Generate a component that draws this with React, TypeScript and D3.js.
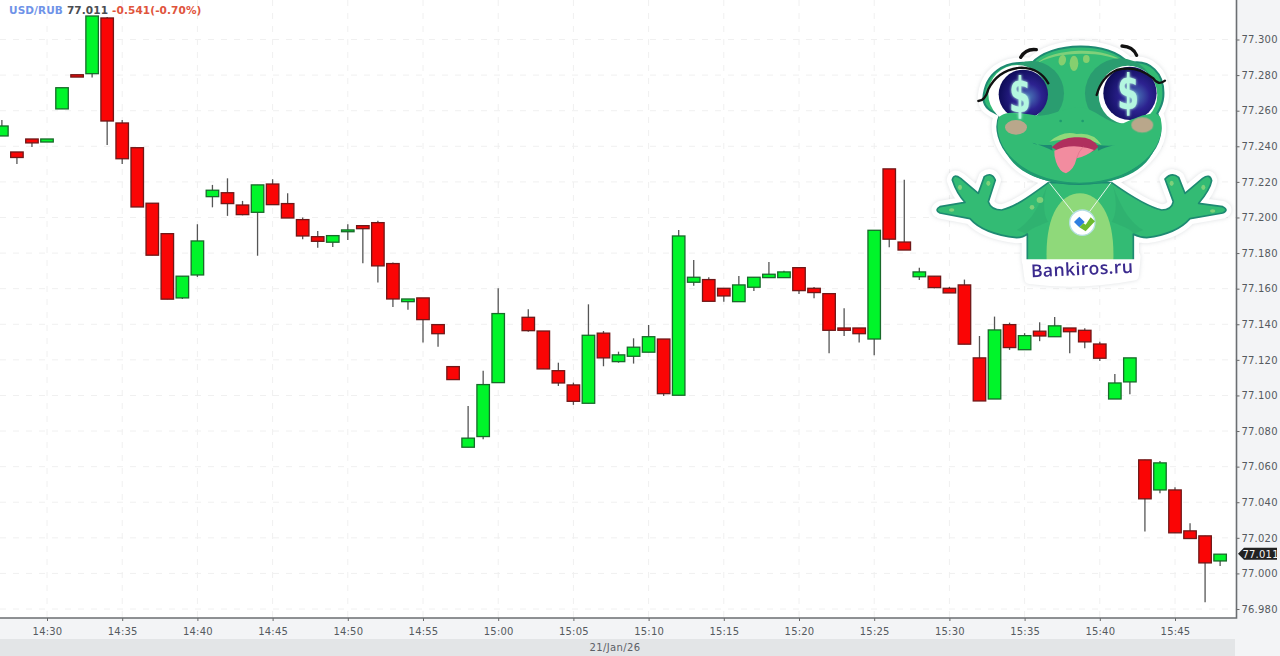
import * as d3 from 'd3';
import React, {useRef, useEffect} from 'react';

const WIDTH = 1280;
const HEIGHT = 656;

// one candle per minute, first one is 14:27
const FIRST_MINUTE = 14 * 60 + 27;

const opens = [
  77.2458, 77.2368, 77.2441, 77.2424, 77.2610, 77.2802, 77.2808, 77.3121, 77.2531, 77.2392,
  77.2080, 77.1909, 77.1548, 77.1677, 77.2117, 77.2139, 77.2070, 77.2029, 77.2188, 77.2078,
  77.1988, 77.1892, 77.1861, 77.1920, 77.1954, 77.1971, 77.1741, 77.1527, 77.1548, 77.1398,
  77.1162, 77.0709, 77.0769, 77.1072, 77.1452, 77.1439, 77.1362, 77.1139, 77.1059, 77.0956,
  77.1350, 77.1190, 77.1220, 77.1243, 77.1317, 77.1001, 77.1636, 77.1651, 77.1602, 77.1527,
  77.1608, 77.1662, 77.1662, 77.1718, 77.1602, 77.1572, 77.1379, 77.1379, 77.1317, 77.2273,
  77.1862, 77.1667, 77.1670, 77.1602, 77.1621, 77.1211, 77.0980, 77.1398, 77.1257, 77.1361,
  77.1330, 77.1379, 77.1366, 77.1289, 77.0980, 77.1076, 77.0638, 77.0469, 77.0469, 77.0239,
  77.0211, 77.0070,
];
const highs = [
  77.2548, 77.2368, 77.2441, 77.2441, 77.2729, 77.2802, 77.3132, 77.3126, 77.2548, 77.2392,
  77.2080, 77.1909, 77.1670, 77.1962, 77.2183, 77.2220, 77.2093, 77.2183, 77.2215, 77.2136,
  77.2000, 77.1924, 77.1898, 77.1962, 77.1958, 77.1982, 77.1747, 77.1542, 77.1548, 77.1398,
  77.1162, 77.0941, 77.1139, 77.1602, 77.1452, 77.1484, 77.1362, 77.1184, 77.1072, 77.1512,
  77.1362, 77.1246, 77.1321, 77.1396, 77.1317, 77.1930, 77.1761, 77.1664, 77.1602, 77.1671,
  77.1664, 77.1750, 77.1700, 77.1718, 77.1610, 77.1572, 77.1490, 77.1379, 77.1928, 77.2273,
  77.2212, 77.1718, 77.1670, 77.1610, 77.1651, 77.1334, 77.1443, 77.1409, 77.1350, 77.1411,
  77.1441, 77.1379, 77.1378, 77.1302, 77.1121, 77.1211, 77.0638, 77.0632, 77.0484, 77.0282,
  77.0211, 77.0108,
];
const lows = [
  77.2458, 77.2301, 77.2396, 77.2424, 77.2610, 77.2789, 77.2787, 77.2407, 77.2301, 77.2059,
  77.1788, 77.1541, 77.1542, 77.1666, 77.2057, 77.2009, 77.2012, 77.1785, 77.2070, 77.1997,
  77.1878, 77.1830, 77.1834, 77.1874, 77.1743, 77.1634, 77.1497, 77.1482, 77.1297, 77.1274,
  77.1089, 77.0709, 77.0754, 77.1072, 77.1452, 77.1358, 77.1149, 77.1053, 77.0947, 77.0956,
  77.1164, 77.1184, 77.1179, 77.1243, 77.0997, 77.1001, 77.1617, 77.1529, 77.1527, 77.1527,
  77.1587, 77.1662, 77.1662, 77.1570, 77.1546, 77.1237, 77.1334, 77.1297, 77.1226, 77.1833,
  77.1817, 77.1649, 77.1602, 77.1576, 77.1288, 77.0969, 77.0980, 77.1256, 77.1257, 77.1305,
  77.1330, 77.1237, 77.1265, 77.1194, 77.0980, 77.1007, 77.0235, 77.0451, 77.0228, 77.0196,
  76.9838, 77.0042,
];
const closes = [
  77.2514, 77.2337, 77.2419, 77.2441, 77.2729, 77.2789, 77.3132, 77.2542, 77.2330, 77.2059,
  77.1788, 77.1541, 77.1670, 77.1868, 77.2153, 77.2078, 77.2016, 77.2183, 77.2072, 77.1997,
  77.1896, 77.1866, 77.1898, 77.1930, 77.1937, 77.1728, 77.1542, 77.1542, 77.1426, 77.1347,
  77.1089, 77.0760, 77.1061, 77.1460, 77.1452, 77.1364, 77.1149, 77.1070, 77.0967, 77.1338,
  77.1211, 77.1228, 77.1271, 77.1330, 77.1010, 77.1896, 77.1664, 77.1529, 77.1559, 77.1621,
  77.1664, 77.1681, 77.1694, 77.1589, 77.1578, 77.1366, 77.1366, 77.1347, 77.1928, 77.1878,
  77.1817, 77.1694, 77.1606, 77.1576, 77.1288, 77.0969, 77.1368, 77.1269, 77.1336, 77.1334,
  77.1391, 77.1358, 77.1301, 77.1209, 77.1070, 77.1211, 77.0419, 77.0621, 77.0228, 77.0196,
  77.0059, 77.0108,
];

const priceTicks = [
  77.3, 77.28, 77.26, 77.24, 77.22, 77.2, 77.18, 77.16, 77.14,
  77.12, 77.1, 77.08, 77.06, 77.04, 77.02, 77.0, 76.98,
];

const SYMBOL = "USD/RUB";
const LAST_PRICE = 77.011;
const CHANGE_TEXT = "-0.541(-0.70%)";
const DATE_LABEL = "21/Jan/26";

const minuteToDate = (m: number) => new Date(2026, 0, 21, Math.floor(m / 60), m % 60);
const times = opens.map((_, i) => minuteToDate(FIRST_MINUTE + i));

const FONT = "'DejaVu Sans', sans-serif";

// the sticker on top of the chart, drawn in its own 3x coordinates
const Mascot = () => {
  const skin = "#33bb74";
  const line = "#1d8a72";
  const body = "M385 458C340 490 290 530 245 540C225 540 210 530 205 515L226 450Q215 425 193 440L175 490L122 445Q100 430 97 450Q110 490 135 517L60 530Q42 540 60 549L150 566Q190 612 290 623Q310 623 322 612L322 692L640 692L640 612Q660 623 680 623Q770 612 810 566L908 549Q928 540 908 530L836 520Q870 480 875 452Q870 430 848 445L795 490L776 442Q755 425 735 447L760 515Q755 540 725 540C680 530 620 490 575 458Z";
  const head = "M190 205C195 130 250 90 335 100C390 35 570 30 625 100C690 85 735 130 730 200C728 225 718 240 712 250C730 290 725 340 680 385C620 450 540 462 478 462C400 462 320 440 275 385C235 345 222 290 240 255C215 245 192 235 190 205Z";
  return (
    <g transform="translate(920,30) scale(0.3333)">
      <defs>
        <radialGradient id="iris" cx="60%" cy="55%" r="60%">
          <stop offset="0%" stopColor="#4a78b8" />
          <stop offset="45%" stopColor="#2c2290" />
          <stop offset="100%" stopColor="#0e0c58" />
        </radialGradient>
        <filter id="glow" x="-60%" y="-40%" width="220%" height="180%">
          <feGaussianBlur stdDeviation="5" result="b" />
          <feMerge><feMergeNode in="b" /><feMergeNode in="SourceGraphic" /></feMerge>
        </filter>
      </defs>
      {/* white sticker edge */}
      <g fill="#fff" stroke="#fff" strokeWidth={34} strokeLinejoin="round" style={{filter: "drop-shadow(0 0 6px rgba(120,130,140,0.25))"}}>
        <path d={body} />
        <path d={head} />
        <path d="M322 680L645 680L640 735Q480 765 330 745Z" />
      </g>
      <path d={body} fill={skin} stroke={line} strokeWidth={5} strokeLinejoin="round" />
      <path d="M380 692C375 560 420 490 480 490C540 490 585 560 580 692Z" fill="#8fd97a" />
      <path d="M385 458C365 510 372 560 385 575C350 590 320 600 322 612L290 600C340 570 360 520 385 458Z" fill="#2aa56c" opacity={0.4} />
      <path d="M575 458C595 510 588 560 575 575C610 590 640 600 640 612L670 600C620 570 600 520 575 458Z" fill="#2aa56c" opacity={0.4} />
      {/* band behind the name covers the end of the body */}
      <path d="M316 688L646 688L640 735Q480 765 330 745Z" fill="#fff" />
      {/* finger and arm spots */}
      <g fill="#7fd07a">
        <ellipse cx={120} cy={472} rx={6} ry={8} />
        <ellipse cx={205} cy={460} rx={6} ry={8} />
        <ellipse cx={95} cy={540} rx={8} ry={5} />
        <ellipse cx={360} cy={510} rx={10} ry={9} />
        <ellipse cx={336} cy={532} rx={7} ry={7} />
        <ellipse cx={755} cy={460} rx={6} ry={8} />
        <ellipse cx={850} cy={472} rx={6} ry={8} />
        <ellipse cx={878} cy={543} rx={8} ry={5} />
      </g>

      {/* necklace */}
      <path d="M388 458L465 555M573 458L505 550" stroke="#e8f6ee" strokeWidth={3} fill="none" />
      <circle cx={487} cy={578} r={38} fill="#fff" stroke="#b4dfe2" strokeWidth={4} />
      <path d="M462 576L478 560L494 576L478 592Z" fill="#2f7fe0" />
      <path d="M478 592L490 580L497 584L512 562L525 574L497 604Z" fill="#6dbb2e" />

      <path d={head} fill={skin} stroke={line} strokeWidth={6} strokeLinejoin="round" />
      {/* lighter rim on the top of the head */}
      <path d="M345 105C395 50 565 48 615 100C560 60 400 62 345 105Z" fill="#7fd07a" />
      <g fill="#86cf6f">
        <ellipse cx={427} cy={91} rx={11} ry={16} transform="rotate(12 427 91)" />
        <ellipse cx={462} cy={100} rx={13} ry={23} />
        <ellipse cx={499} cy={87} rx={10} ry={12} />
      </g>

      {/* eye sockets */}
      <circle cx={335} cy={190} r={97} fill="#2a9d70" />
      <circle cx={600} cy={190} r={105} fill="#2a9d70" />
      <circle cx={292} cy={192} r={87} fill="#fff" />
      <circle cx={624} cy={195} r={88} fill="#fff" />
      <circle cx={310} cy={193} r={74} fill="url(#iris)" />
      <circle cx={630} cy={190} r={80} fill="url(#iris)" />
      <path d="M175 213Q195 213 205 178Q235 118 305 113Q360 115 385 160" fill="none" stroke="#111" strokeWidth={7} strokeLinecap="round" />
      <path d="M735 152Q715 168 700 145Q650 105 590 120Q545 140 530 195" fill="none" stroke="#111" strokeWidth={7} strokeLinecap="round" />
      <path d="M302 82Q318 55 349 59" fill="none" stroke="#111" strokeWidth={10} strokeLinecap="round" />
      <path d="M606 48Q640 50 650 76" fill="none" stroke="#111" strokeWidth={10} strokeLinecap="round" />

      {/* lower face covers the eyes */}
      <path d="M235 268C240 245 290 245 340 255C385 265 420 235 478 232C530 235 560 285 610 280C650 260 715 235 722 265C735 320 700 380 650 410C590 450 530 458 478 458C410 458 340 440 290 400C250 365 225 315 235 268Z" fill={skin} />
      <path d="M250 352C300 430 400 458 478 458C560 458 660 430 706 352C670 445 560 462 478 462C390 462 285 440 250 352Z" fill="#1f9a70" />

      <g fill="#b4f7e0" filter="url(#glow)" fontFamily={FONT} fontWeight={700} fontSize={118} textAnchor="middle">
        <text transform="translate(300,247) scale(0.8,1.2)">$</text>
        <text transform="translate(625,237) scale(0.8,1.2)">$</text>
      </g>

      <ellipse cx={288} cy={292} rx={33} ry={22} fill="#c8a58e" opacity={0.9} />
      <ellipse cx={667} cy={285} rx={33} ry={23} fill="#c8a58e" opacity={0.9} />
      <circle cx={422} cy={273} r={4} fill="#1f9a70" />
      <circle cx={488} cy={273} r={4} fill="#1f9a70" />

      {/* mouth */}
      <path d="M388 335Q430 300 470 312Q520 305 545 345Q490 315 388 335Z" fill="#8fd97a" />
      <path d="M338 338Q380 352 398 362L395 345Q340 345 338 338ZM585 345Q555 352 535 362L530 345Q575 350 585 345Z" fill={line} />
      <path d="M395 352Q430 318 472 322Q515 320 535 350Q520 372 470 375Q430 375 395 352Z" fill="#b02f5e" />
      <path d="M403 362Q440 345 480 350Q505 352 522 360Q500 378 470 385Q462 420 438 430Q418 425 408 395Q402 378 403 362Z" fill="#f28c9f" />
      <path d="M470 385Q475 365 490 350" stroke="#d96f88" strokeWidth={2} fill="none" />

      <text x={487} y={735} textAnchor="middle" transform="rotate(-2.5 487 735)" fontFamily="'Open Sans', sans-serif" fontWeight={600} fontSize={53} letterSpacing={1} fill="#3b2a8e">Bankiros.ru</text>
    </g>
  );
};

export default function App() {
  const ref = useRef<SVGGElement>(null);

  useEffect(() => {
    const root = d3.select(ref.current);
    root.selectAll("*").remove();

    const plotRight = 1236.5;
    const plotBottom = 618;

    const x = d3.scaleTime()
      .domain([minuteToDate(14 * 60 + 30), minuteToDate(15 * 60 + 45)])
      .range([47, 1175]);
    const y = d3.scaleLinear().domain([77.3, 76.98]).range([39.5, 609]);
    const timeTicks = d3.timeMinute.every(5)!.range(minuteToDate(14 * 60 + 30), minuteToDate(15 * 60 + 46));

    // panels
    root.append("rect").attr("x", 0).attr("y", 0).attr("width", WIDTH).attr("height", HEIGHT).attr("fill", "#f3f4f6");
    root.append("rect").attr("x", 0).attr("y", 0).attr("width", plotRight).attr("height", plotBottom).attr("fill", "#ffffff");
    root.append("rect").attr("x", 0).attr("y", 639).attr("width", 1235).attr("height", HEIGHT - 639).attr("fill", "#e3e5e7");

    // grid
    const grid = root.append("g").attr("stroke", "#f0f0f0").attr("stroke-dasharray", "6,7").attr("stroke-width", 1);
    grid.selectAll("line.h").data(priceTicks).enter().append("line").attr("class", "h")
      .attr("x1", 0).attr("x2", plotRight).attr("y1", d => y(d)).attr("y2", d => y(d));
    grid.selectAll("line.v").data(timeTicks).enter().append("line").attr("class", "v")
      .attr("x1", d => x(d)).attr("x2", d => x(d)).attr("y1", 0).attr("y2", plotBottom);

    // axes
    const xAxis = root.append("g").attr("transform", `translate(0,${plotBottom})`)
      .call(d3.axisBottom(x).tickValues(timeTicks).tickFormat(d3.timeFormat("%H:%M") as any).tickSize(3).tickPadding(7));
    const yAxis = root.append("g").attr("transform", `translate(${plotRight},0)`)
      .call(d3.axisRight(y).tickValues(priceTicks).tickFormat(d3.format(".3f") as any).tickSize(3).tickPadding(2));
    for (const axis of [xAxis, yAxis]) {
      axis.selectAll("text")
        .attr("font-family", FONT).attr("font-size", 10).attr("fill", "#555a60")
        .attr("letter-spacing", "0.2px");
      axis.selectAll(".tick line").attr("stroke", "#666");
    }
    xAxis.select(".domain").remove();
    yAxis.select(".domain").remove();
    root.append("path").attr("d", `M0,${plotBottom}H${plotRight}V0`).attr("fill", "none").attr("stroke", "#6b6e72").attr("stroke-width", 1.6);

    // candles
    const candles = root.append("g").selectAll("g").data(times).enter().append("g");
    const isUp = (i: number) => closes[i] >= opens[i];
    const bodyWidth = 12.5;
    candles.append("line")
      .attr("x1", d => x(d)).attr("x2", d => x(d))
      .attr("y1", (_, i) => y(highs[i])).attr("y2", (_, i) => y(lows[i]))
      .attr("stroke", "#555").attr("stroke-width", 1.3);
    candles.append("rect")
      .attr("x", d => x(d) - bodyWidth / 2)
      .attr("width", bodyWidth)
      .attr("y", (_, i) => y(Math.max(opens[i], closes[i])))
      .attr("height", (_, i) => Math.abs(y(opens[i]) - y(closes[i])))
      .attr("fill", (_, i) => isUp(i) ? "#00f52a" : "#fa0505")
      .attr("stroke", (_, i) => isUp(i) ? "#186a2a" : "#701818")
      .attr("stroke-width", 1.3);

    // header
    const header = root.append("text").attr("x", 9).attr("y", 14)
      .attr("font-family", FONT).attr("font-size", 10.5).attr("font-weight", 700).attr("letter-spacing", "0.1px");
    header.append("tspan").attr("fill", "#6f93e8").text(SYMBOL);
    header.append("tspan").attr("dx", 4).attr("fill", "#4a4d52").text(LAST_PRICE.toFixed(3));
    header.append("tspan").attr("dx", 4).attr("fill", "#e0543c").text(CHANGE_TEXT);

    // last price tag
    const tagY = y(LAST_PRICE);
    root.append("path")
      .attr("d", `M1238,${tagY}L1244,${tagY - 6}H1277V${tagY + 6}H1244Z`)
      .attr("fill", "#222");
    root.append("text").attr("x", 1242.5).attr("y", tagY + 4)
      .attr("font-family", FONT).attr("font-size", 10).attr("letter-spacing", "0.2px").attr("fill", "#f4f4f4")
      .text(LAST_PRICE.toFixed(3));

    // date
    root.append("text").attr("x", 615).attr("y", 651).attr("text-anchor", "middle")
      .attr("font-family", FONT).attr("font-size", 10).attr("fill", "#5c6066").attr("letter-spacing", "0.4px")
      .text(DATE_LABEL);
  }, []);

  return (
    <svg width={WIDTH} height={HEIGHT} viewBox={`0 0 ${WIDTH} ${HEIGHT}`}
         style={{position: "fixed", left: 0, top: 0, display: "block"}}>
      <g ref={ref} />
      <Mascot />
    </svg>
  );
}
